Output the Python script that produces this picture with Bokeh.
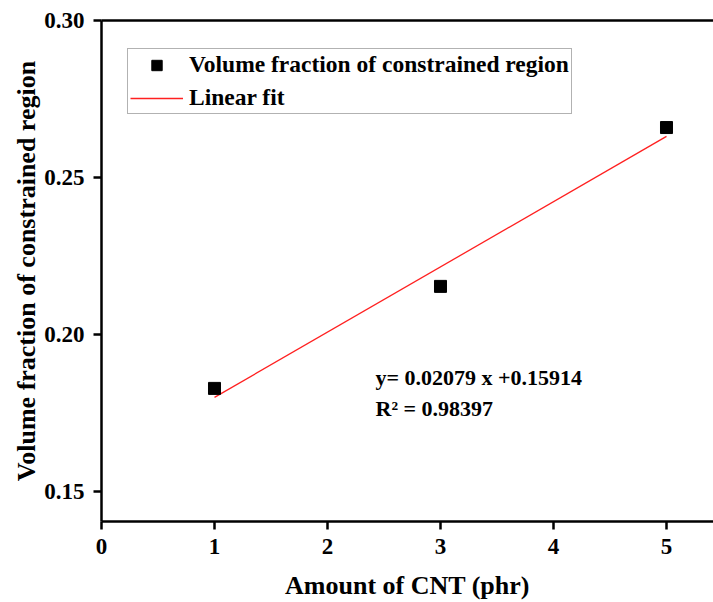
from bokeh.plotting import figure
from bokeh.models import LinearAxis, Legend, LegendItem, FixedTicker, Range1d, NumeralTickFormatter
from bokeh.core.properties import value
from bokeh.embed import file_html
from bokeh.resources import INLINE

cnt = [1, 3, 5]
vol_frac = [0.1828, 0.2153, 0.2659]
slope = 0.02079
intercept = 0.15914
r2 = 0.98397
x_ticks = [0, 1, 2, 3, 4, 5]
y_ticks = [0.15, 0.20, 0.25, 0.30]

FONT = "Liberation Serif"

p = figure(width=713, height=602, output_backend="svg", toolbar_location=None,
           x_range=Range1d(0, 5.416), y_range=Range1d(0.1404, 0.30),
           min_border_left=101, min_border_right=0, min_border_top=20, min_border_bottom=81)
p.grid.visible = False
p.outline_line_color = None

fit_x = [cnt[0], cnt[-1]]
fit_y = [slope * x + intercept for x in fit_x]
r_line = p.line(fit_x, fit_y, line_color="#ff2020", line_width=1.3)
r_sc = p.scatter(cnt, vol_frac, marker="square", size=12, fill_color="black", line_color="black")

for ax in (p.xaxis[0], p.yaxis[0]):
    ax.axis_line_width = 2.5
    ax.major_tick_line_width = 2.5
    ax.major_tick_out = 8
    ax.major_tick_in = 0
    ax.minor_tick_line_color = None
    ax.major_label_text_font = FONT
    ax.major_label_text_font_style = "bold"
    ax.major_label_text_font_size = "23px"
    ax.major_label_text_color = "black"
    ax.axis_label_text_font = FONT
    ax.axis_label_text_font_style = "bold"
    ax.axis_label_text_font_size = "26px"
    ax.axis_label_text_color = "black"

p.xaxis[0].ticker = FixedTicker(ticks=x_ticks)
p.yaxis[0].ticker = FixedTicker(ticks=y_ticks)
p.yaxis[0].formatter = NumeralTickFormatter(format="0.00")
p.xaxis[0].axis_label = "Amount of CNT (phr)"
p.yaxis[0].axis_label = "Volume fraction of constrained region"
p.xaxis[0].major_label_standoff = 9
p.xaxis[0].axis_label_standoff = 14
p.yaxis[0].major_label_standoff = 9
p.yaxis[0].axis_label_standoff = 0

top = LinearAxis(ticker=FixedTicker(ticks=[]), axis_line_width=2.5,
                 major_tick_line_color=None, minor_tick_line_color=None,
                 major_label_text_font_size="0px")
p.add_layout(top, "above")

p.text(x=[2.425], y=[0.1862], text=[f"y= {slope} x +{intercept}"],
       text_font=value(FONT), text_font_style="bold", text_font_size="22px",
       text_baseline="middle", text_align="left", text_color="black")
p.text(x=[2.425], y=[0.1765], text=[f"R\u00b2 = {r2}"],
       text_font=value(FONT), text_font_style="bold", text_font_size="22px",
       text_baseline="middle", text_align="left", text_color="black")

legend = Legend(items=[LegendItem(label="Volume fraction of constrained region", renderers=[r_sc]),
                       LegendItem(label="Linear fit", renderers=[r_line])],
                location=(26, 407))
legend.label_text_font = FONT
legend.label_text_font_style = "bold"
legend.label_text_font_size = "23.5px"
legend.label_text_color = "black"
legend.border_line_color = "#666666"
legend.border_line_width = 1.5
legend.glyph_width = 53
legend.glyph_height = 26
legend.label_height = 26
legend.spacing = 6
legend.padding = 2
legend.margin = 0
legend.label_standoff = 6
p.add_layout(legend)

open("out.html", "w").write(file_html(p, INLINE))
